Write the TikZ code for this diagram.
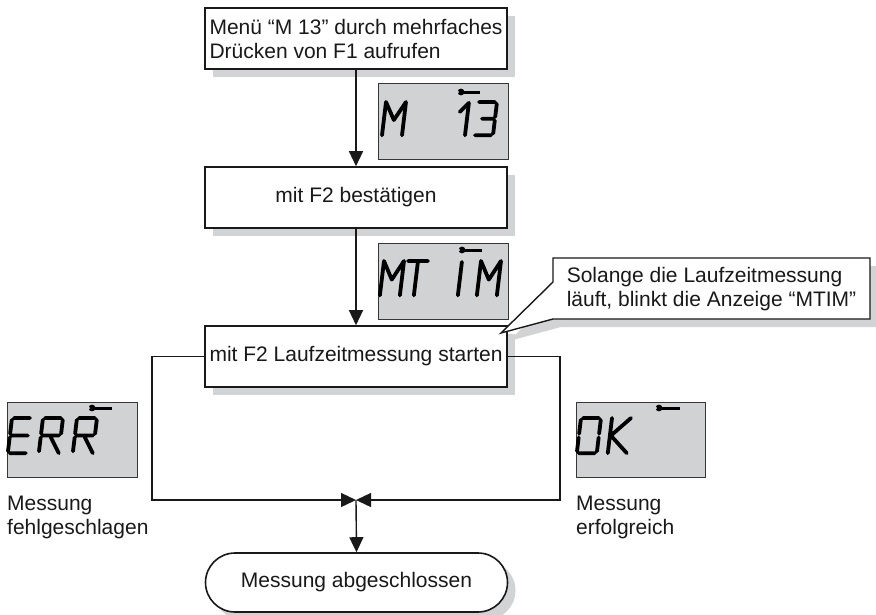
\documentclass[tikz,border=0pt]{standalone}
\usepackage{fontspec}
\setmainfont{Liberation Sans}
\usetikzlibrary{arrows.meta,shapes.misc,shadows}
\definecolor{shgray}{RGB}{210,211,213}
\definecolor{lcdgray}{RGB}{209,210,212}
\definecolor{lcdframe}{RGB}{55,55,55}
\definecolor{ink}{RGB}{25,25,25}
\newcommand\lcdch[4]{\begin{scope}[shift={(#1,#2)},xslant=0.12,yscale=#3]\draw[lcdseg,#4];\end{scope}}
\newcommand\wrench[3]{\draw[line width=3pt] (#1,#3)--(#2,#3);\fill (#1,#3) circle (3.4pt);\fill[lcdgray] (#1-3.2,#3) circle (1.3pt);}
\tikzset{
  sgA/.style={insert path={(2,0)--(18,0)}},
  sgB/.style={insert path={(20,2)--(20,16.5)}},
  sgC/.style={insert path={(20,20.5)--(20,35)}},
  sgD/.style={insert path={(2,37)--(18,37)}},
  sgE/.style={insert path={(0,20.5)--(0,35)}},
  sgF/.style={insert path={(0,2)--(0,16.5)}},
  sgG/.style={insert path={(2,18.5)--(18,18.5)}},
  chM/.style={insert path={(0,37)--(0,0)--(10,20)--(20,0)--(20,37)}},
  chT/.style={insert path={(0,0)--(20,0) (10,2)--(10,37)}},
  chI/.style={insert path={(10,1)--(10,37)}},
  chOne/.style={insert path={(11,11)--(19,1)--(19,37)}},
  chThree/.style={sgA,sgB,sgC,sgD,insert path={(7,18.5)--(18,18.5)}},
  chE/.style={sgA,sgF,sgE,sgD,sgG},
  chR/.style={sgA,sgB,sgF,sgE,sgG,insert path={(10,20)--(20,37)}},
  chO/.style={sgA,sgB,sgC,sgD,sgE,sgF},
  chK/.style={insert path={(0,0)--(0,37) (19,0)--(1,18.5)--(19,37)}},
}
\begin{document}
\begin{tikzpicture}[x=1pt,y=-1pt,
  font=\fontsize{21}{24}\selectfont, text=ink,
  box/.style={draw=ink, line width=1.6pt, fill=white, minimum width=302pt,
    minimum height=61pt, inner sep=0pt,
    drop shadow={shadow xshift=8pt, shadow yshift=-8pt, fill=shgray, opacity=1}},
  lcd/.style={draw=lcdframe, line width=1.2pt, fill=lcdgray, minimum width=130pt,
    minimum height=76pt, inner sep=0pt, anchor=north west},
  lcdseg/.style={line width=3.8pt, line cap=round, line join=round, draw=black},
  flow/.style={draw=ink, line width=1.4pt, -{Triangle[length=15pt,width=14pt]}},
  lbl/.style={align=left, anchor=north west, inner sep=0pt}]
\useasboundingbox (0,0) rectangle (876,614);

% main boxes
\node[box, align=left] (b1) at (356,38.5) {Menü “M 13” durch mehrfaches\\Drücken von F1 aufrufen};
\node[box] (b2) at (356,197.5) {mit F2 bestätigen};
\node[box] (b3) at (356,356.5) {mit F2 Laufzeitmessung starten};
\node[box, rounded rectangle, minimum height=59pt] (b4) at (356.5,582.5) {Messung abgeschlossen};

% displays
\node[lcd] (d1) at (378,83) {};
\node[lcd] (d2) at (378,243) {};
\node[lcd, minimum height=75pt] (d3) at (7,402) {};
\node[lcd, minimum height=75pt, minimum width=129pt] (d4) at (576,402) {};

% display 1: "M  13"
\lcdch{386}{102}{0.9}{chM}
\lcdch{450}{102}{0.9}{chOne}
\lcdch{477}{102}{0.9}{chThree}
\wrench{461}{480}{92}
% display 2: "MTIM"
\lcdch{384}{261}{0.93}{chM}
\lcdch{408}{261}{0.93}{chT}
\lcdch{452}{261}{0.93}{chI}
\lcdch{481}{261}{0.93}{chM}
\wrench{462}{482}{250}
% display 3: "ERR"
\lcdch{12}{418}{0.95}{chE}
\lcdch{43}{418}{0.95}{chR}
\lcdch{77}{418}{0.95}{chR}
\wrench{92}{112}{408}
% display 4: "OK"
\lcdch{581}{418}{0.95}{chO}
\lcdch{612}{418}{0.95}{chK}
\wrench{659}{680}{408}

% labels
\node[lbl] (lf) at (7,496) {Messung\\fehlgeschlagen};
\node[lbl] (lo) at (576,496) {Messung\\erfolgreich};

% callout
\coordinate (cnw) at (553,258);
\coordinate (cse) at (870,319);
\coordinate (cj) at (553,282);
\coordinate (tip) at (501,333);
\fill[shgray] ([shift={(8,8)}]cnw) -- ([shift={(8,8)}]cnw -| cse) -- ([shift={(8,8)}]cse)
  -- ([shift={(8,8)}]cse -| cnw) -- ([shift={(8,8)}]tip) -- ([shift={(8,8)}]cj) -- cycle;
\filldraw[fill=white, draw=ink, line width=1.4pt, line join=miter]
  (cnw) -- (cnw -| cse) -- (cse) -- (cse -| cnw) -- (tip) -- (cj) -- cycle;
\node[align=left, inner sep=0pt] (cal) at (711.5,289) {Solange die Laufzeitmessung\\läuft, blinkt die Anzeige “MTIM”};

% connectors
\coordinate (m) at (356,500);
\coordinate (lcor) at (152,500);
\coordinate (rcor) at (560,500);
\draw[flow] (b1.south) -- (b2.north);
\draw[flow] (b2.south) -- (b3.north);
\draw[flow] (b3.west) -| (lcor) -- (m);
\draw[flow] (b3.east) -| (rcor) -- (m);
\draw[flow] (m) -- (b4.north);
\end{tikzpicture}
\end{document}
